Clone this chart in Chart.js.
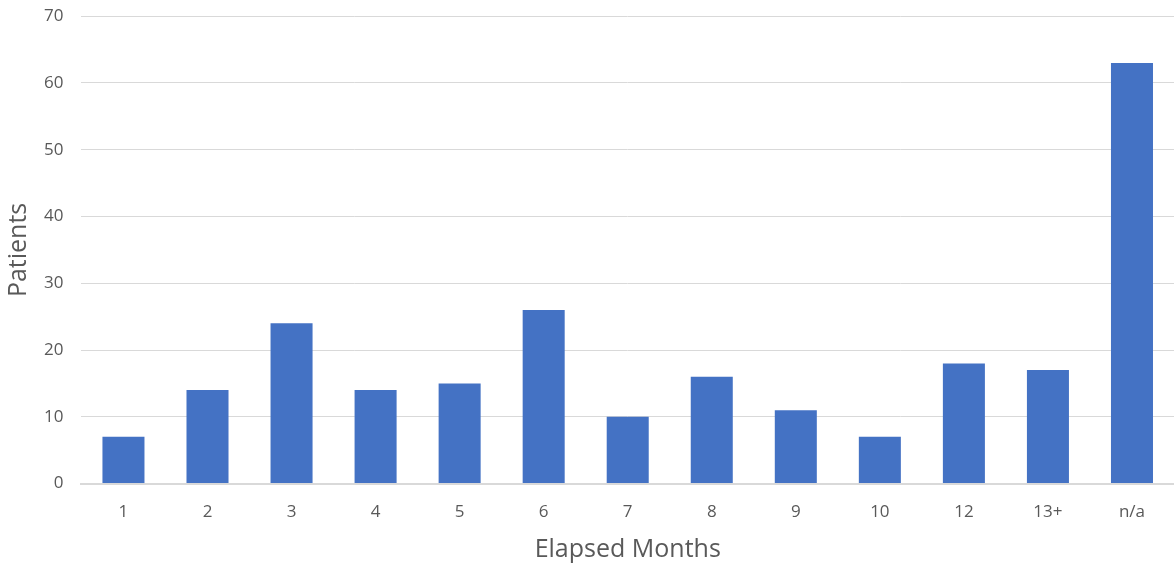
<!DOCTYPE html>
<html>
<head>
<meta charset="utf-8">
<script src="https://cdn.jsdelivr.net/npm/chart.js@4/dist/chart.umd.min.js"></script>
<style>
  html, body { margin: 0; padding: 0; background: #fff; }
  #wrap { width: 1174px; height: 566px; }
</style>
</head>
<body>
<div id="wrap"><canvas id="months_chart"></canvas></div>
<script>
var months = ['1', '2', '3', '4', '5', '6', '7', '8', '9', '10', '12', '13+', 'n/a'];
var patients = [7, 14, 24, 14, 15, 26, 10, 16, 11, 7, 18, 17, 63];
var yTicks = [0, 10, 20, 30, 40, 50, 60, 70];

var textColor = '#595959';
var gridColor = '#D9D9D9';

var months_chart = new Chart(document.getElementById('months_chart'), {
    type: 'bar',
    data: {
        labels: months,
        datasets: [{
            label: 'Patients',
            data: patients,
            backgroundColor: '#4472C4',
            borderWidth: 0,
            categoryPercentage: 1.0,
            barPercentage: 0.5
        }]
    },
    options: {
        responsive: true,
        maintainAspectRatio: false,
        animation: false,
        layout: {
            padding: { left: 4, right: 0, top: 0, bottom: 1 }
        },
        plugins: {
            legend: { display: false },
            tooltip: { enabled: false }
        },
        scales: {
            x: {
                grid: { display: false, drawTicks: false },
                border: { color: gridColor, width: 2 },
                ticks: {
                    color: textColor,
                    font: { family: 'Open Sans', size: 17 },
                    padding: 18
                },
                title: {
                    display: true,
                    text: 'Elapsed Months',
                    color: textColor,
                    font: { family: 'Open Sans', size: 25 },
                    padding: { top: -5, bottom: 0 }
                }
            },
            y: {
                min: 0,
                max: 70,
                afterBuildTicks: function (axis) {
                    axis.ticks = yTicks.map(function (v) { return { value: v }; });
                },
                // invisible tick marks push the labels away from the plot
                grid: {
                    color: gridColor,
                    lineWidth: 1,
                    drawTicks: true,
                    tickLength: 12,
                    tickColor: 'rgba(0,0,0,0)'
                },
                border: { display: false },
                ticks: {
                    color: textColor,
                    font: { family: 'Open Sans', size: 17 },
                    padding: 6
                },
                title: {
                    display: true,
                    text: 'Patients',
                    color: textColor,
                    font: { family: 'Open Sans', size: 25 },
                    padding: { top: 0, bottom: 4 }
                }
            }
        }
    }
});
</script>
</body>
</html>
